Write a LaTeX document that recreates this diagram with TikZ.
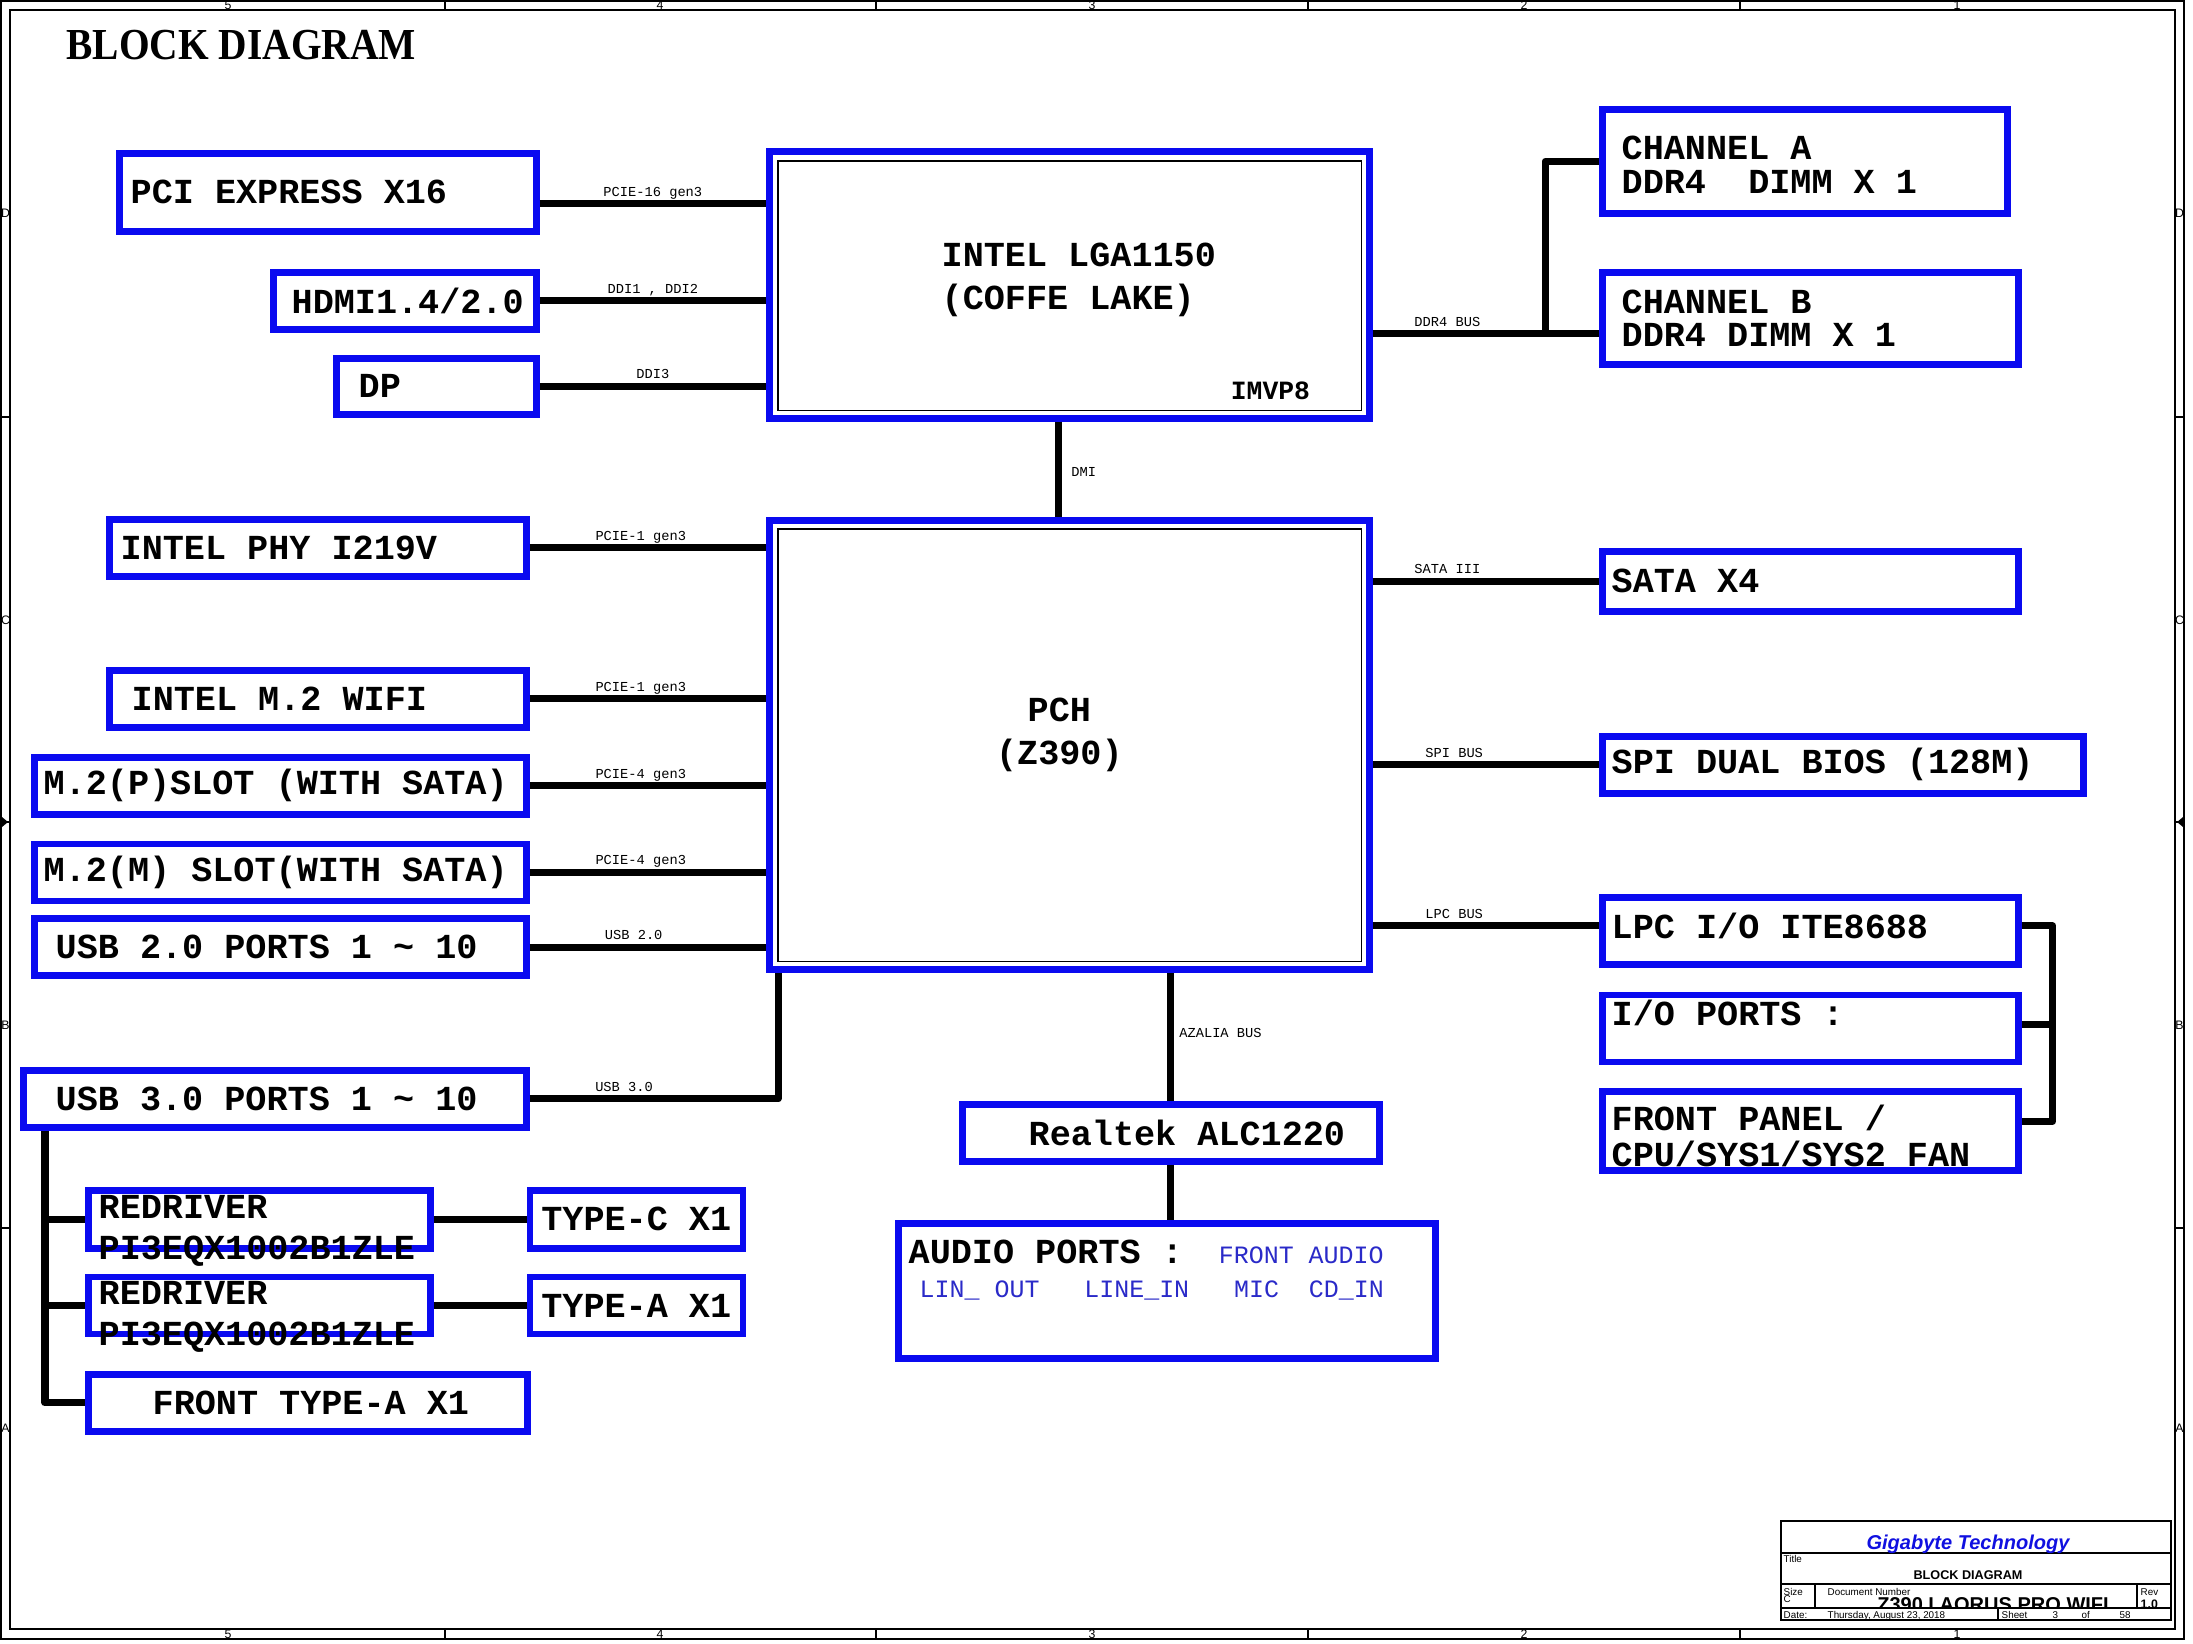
\documentclass[tikz,border=0pt]{standalone}
\usepackage{fontspec}
\usepackage{graphicx}
\setmainfont{Liberation Serif}
\setsansfont{Liberation Sans}
\setmonofont{Liberation Mono}
\usetikzlibrary{positioning}
\definecolor{boxblue}{HTML}{0A0AF0}
\definecolor{txtblue}{HTML}{2A2AC8}
\definecolor{gigablue}{HTML}{1010E0}

\newcommand{\boxfont}{\ttfamily\bfseries\fontsize{10}{12}\selectfont}
\newcommand{\lblfont}{\ttfamily\fontsize{3.9}{4.7}\selectfont}
\newcommand{\portfont}{\ttfamily\mdseries\fontsize{7.1}{8.5}\selectfont}
\newcommand{\tbfont}{\sffamily\fontsize{2.8}{3.2}\selectfont}
\newcommand{\titlefont}{\rmfamily\bfseries\fontsize{12.6}{15}\selectfont}

\begin{document}
\begin{tikzpicture}[
  x=0.1mm, y=-0.1mm,
  blk/.style={rectangle, draw=boxblue, line width=1.9pt, anchor=north west, minimum height=5.7mm, inner sep=0pt},
  chip/.style={blk, minimum width=60mm},
  btxt/.style={anchor=west, font=\boxfont, align=left, inner sep=0pt, xshift=#1},
  btxt/.default=1.2mm,
  ctxt/.style={font=\boxfont, align=center, inner sep=0pt},
  lbl/.style={font=\lblfont, inner sep=0pt, text depth=0.25em},
  bus/.style={line width=2pt, line join=round},
  frm/.style={line width=0.4pt},
  zone/.style={font=\sffamily\fontsize{3.5}{4}\selectfont, inner sep=0pt},
  tbtxt/.style={font=\tbfont, inner sep=0pt, anchor=north west},
]
\useasboundingbox (0,0) rectangle (2193,1643);

% sheet frame
\draw[frm] (1,1) rectangle (2184,1639);
\draw[line width=0.6pt] (10,10) rectangle (2175,1629);
\draw[frm] (445,1) -- (445,10) (876,1) -- (876,10) (1308,1) -- (1308,10) (1740,1) -- (1740,10);
\draw[frm] (445,1629) -- (445,1639) (876,1629) -- (876,1639) (1308,1629) -- (1308,1639) (1740,1629) -- (1740,1639);
\draw[frm] (1,417) -- (10,417) (1,822) -- (10,822) (1,1228) -- (10,1228);
\draw[frm] (2175,417) -- (2184,417) (2175,822) -- (2184,822) (2175,1228) -- (2184,1228);
\fill (2,817) -- (8,822) -- (2,827) -- cycle;
\fill (2183,817) -- (2177,822) -- (2183,827) -- cycle;
\node[zone] (zt5) at (228,5.5) {5}; \node[zone] (zt4) at (660,5.5) {4}; \node[zone] (zt3) at (1092,5.5) {3};
\node[zone] (zt2) at (1524,5.5) {2}; \node[zone] (zt1) at (1957,5.5) {1};
\node[zone] (zb5) at (228,1634) {5}; \node[zone] (zb4) at (660,1634) {4}; \node[zone] (zb3) at (1092,1634) {3};
\node[zone] (zb2) at (1524,1634) {2}; \node[zone] (zb1) at (1957,1634) {1};
\node[zone] (zlD) at (5.5,213) {D}; \node[zone] (zlC) at (5.5,620) {C}; \node[zone] (zlB) at (5.5,1025) {B}; \node[zone] (zlA) at (5.5,1428) {A};
\node[zone] (zrD) at (2179.5,213) {D}; \node[zone] (zrC) at (2179.5,620) {C}; \node[zone] (zrB) at (2179.5,1025) {B}; \node[zone] (zrA) at (2179.5,1428) {A};

\node[font=\titlefont, anchor=base west, inner sep=0pt] (title) at (66,59) {\scalebox{0.89}[1]{BLOCK DIAGRAM}};

% processor and chipset
\node[chip, minimum height=26.7mm,
  label={[btxt=17.5mm, yshift=0.5mm]west:{INTEL LGA1150\\(COFFE LAKE)}},
  label={[font=\ttfamily\bfseries\fontsize{7.5}{9}\selectfont, anchor=base east, inner sep=0pt, xshift=-6.2mm, yshift=2.2mm]south east:IMVP8}] (cpu) at (766,148) {};
\node[chip, minimum height=44.9mm,
  label={[ctxt, xshift=-1mm, yshift=1mm]center:{PCH\\(Z390)}}] (pch) at (766,517) {};
\draw[thin] ([shift={(1.2mm,-1.3mm)}]cpu.north west) rectangle ([shift={(-1.1mm,1.1mm)}]cpu.south east);
\draw[thin] ([shift={(1.2mm,-1.2mm)}]pch.north west) rectangle ([shift={(-1.1mm,1.1mm)}]pch.south east);

% display side
\node[blk, minimum width=41.7mm, minimum height=7.8mm, label={[btxt=1.4mm]west:PCI EXPRESS X16}] (pcie) at (116,150) {};
\node[blk, minimum width=26.3mm, label={[btxt=2.1mm]west:HDMI1.4/2.0}] (hdmi) at (270,269) {};
\node[blk, minimum width=20mm, minimum height=5.6mm, label={[btxt=2.5mm]west:DP}] (dp) at (333,355) {};

% memory
\node[blk, minimum width=40.5mm, minimum height=10.4mm, label={[btxt=2.2mm, yshift=-0.35mm]west:{CHANNEL A\\[-2.5pt]DDR4\ \ DIMM X 1}}] (cha) at (1599,106) {};
\node[blk, minimum width=41.6mm, minimum height=9.2mm, label={[btxt=2.2mm]west:{CHANNEL B\\[-2.5pt]DDR4 DIMM X 1}}] (chb) at (1599,269) {};

% PCH left side
\node[blk, minimum width=41.7mm, label={[btxt=1.4mm]west:INTEL PHY I219V}] (phy) at (106,516) {};
\node[blk, minimum width=41.7mm, label={[btxt=2.5mm]west:INTEL M.2 WIFI}] (wifi) at (106,667) {};
\node[blk, minimum width=49.2mm, label={[btxt]west:M.2(P)SLOT (WITH SATA)}] (m2p) at (31,754) {};
\node[blk, minimum width=49.2mm, below=2.3mm of m2p, label={[btxt]west:M.2(M) SLOT(WITH SATA)}] (m2m) {};
\node[blk, minimum width=49.2mm, below=1.1mm of m2m, label={[btxt=2.4mm]west:USB 2.0 PORTS 1 \textasciitilde{} 10}] (usb2) {};
\node[blk, minimum width=50.3mm, label={[btxt=3.5mm]west:USB 3.0 PORTS 1 \textasciitilde{} 10}] (usb3) at (20,1067) {};

% USB 3.0 branch
\node[blk, minimum width=34.2mm, minimum height=5.8mm, label={[btxt=1.3mm, yshift=-1.15mm]west:{REDRIVER\\[-0.5pt]PI3EQX1002B1ZLE}}] (rd1) at (85,1187) {};
\node[blk, minimum width=21.3mm, minimum height=5.8mm, right=9.3mm of rd1, label={[btxt=1.4mm]west:TYPE-C X1}] (typec) {};
\node[blk, minimum width=34.2mm, below=2.2mm of rd1, label={[btxt=1.3mm, yshift=-1.15mm]west:{REDRIVER\\[-0.5pt]PI3EQX1002B1ZLE}}] (rd2) {};
\node[blk, minimum width=21.3mm, right=9.3mm of rd2, label={[btxt=1.4mm]west:TYPE-A X1}] (typea) {};
\node[blk, minimum width=43.9mm, label={[btxt=6.7mm]west:FRONT TYPE-A X1}] (fta) at (85,1371) {};

% PCH right side
\node[blk, minimum width=41.6mm, minimum height=6mm, label={[btxt]west:SATA X4}] (sata) at (1599,548) {};
\node[blk, minimum width=48.1mm, label={[btxt]west:SPI DUAL BIOS (128M)}] (spi) at (1599,733) {};
\node[blk, minimum width=41.6mm, minimum height=6.7mm, label={[btxt, yshift=0.5mm]west:LPC I/O ITE8688}] (lpc) at (1599,894) {};
\node[blk, minimum width=41.6mm, minimum height=6.7mm, below=2.4mm of lpc, label={[btxt, yshift=1.6mm]west:{I/O PORTS :}}] (io) {};
\node[blk, minimum width=41.6mm, minimum height=7.9mm, below=2.3mm of io, label={[btxt, yshift=-0.5mm]west:{FRONT PANEL /\\[-1.8pt]CPU/SYS1/SYS2 FAN}}] (fp) {};

% audio
\node[blk, minimum width=41.7mm, label={[btxt=6.9mm]west:Realtek ALC1220}] (realtek) at (959,1101) {};
\node[blk, minimum width=53.7mm, minimum height=13.5mm,
  label={[anchor=north west, inner sep=0pt, xshift=1.3mm, yshift=-1.9mm]north west:{\boxfont AUDIO PORTS :\hspace{3.6mm}{\portfont\color{txtblue}FRONT AUDIO}}},
  label={[anchor=north west, inner sep=0pt, xshift=2.4mm, yshift=-6mm, font=\portfont, text=txtblue]north west:{LIN\_\ OUT\ \ \ LINE\_IN\ \ \ MIC\ \ CD\_IN}}] (audio) at (895,1220) {};

% buses
\coordinate (p16) at ([yshift=-1.15mm]pcie.east);
\draw[bus] (p16) -- (p16 -| cpu.west) node[lbl, above=-1.3pt, midway] (lp16) {PCIE-16 gen3};
\draw[bus] (hdmi) -- (hdmi -| cpu.west) node[lbl, above=-1.3pt, midway] (lddi) {DDI1 , DDI2};
\draw[bus] (dp) -- (dp -| cpu.west) node[lbl, above=-1.3pt, midway] (lddi3) {DDI3};

\coordinate (ddr) at ([yshift=-1.55mm]chb.west);
\coordinate (ddrj) at ([xshift=-5.4mm]ddr);
\draw[bus] (ddr -| cpu.east) -- (ddr) node[lbl, above=-1.3pt, pos=0.33] (lddr) {DDR4 BUS};
\draw[bus] (cha.west) -| (ddrj);

\coordinate (dmi) at ([xshift=-1.05mm]cpu.south);
\draw[bus] (dmi) -- (dmi |- pch.north) node[lbl, right=0.9mm, midway, yshift=-0.7mm] (ldmi) {DMI};

\draw[bus] (phy) -- (phy -| pch.west) node[lbl, above=-1.3pt, pos=0.47] (lphy) {PCIE-1 gen3};
\draw[bus] (wifi) -- (wifi -| pch.west) node[lbl, above=-1.3pt, pos=0.47] (lwifi) {PCIE-1 gen3};
\draw[bus] (m2p) -- (m2p -| pch.west) node[lbl, above=-1.3pt, pos=0.47] (lm2p) {PCIE-4 gen3};
\draw[bus] (m2m) -- (m2m -| pch.west) node[lbl, above=-1.3pt, pos=0.47] (lm2m) {PCIE-4 gen3};
\draw[bus] (usb2) -- (usb2 -| pch.west) node[lbl, above=-1.3pt, pos=0.44] (lusb2) {USB 2.0};
\coordinate (u3) at ([xshift=1.2mm]pch.south west);
\draw[bus] (usb3) -| (u3) node[lbl, above=-1.3pt, pos=0.19] (lusb3) {USB 3.0};

\coordinate (u3t) at ([xshift=2.5mm]usb3.south west);
\draw[bus] (u3t) |- (fta);
\draw[bus] (u3t |- rd1) -- (rd1);
\draw[bus] (u3t |- rd2) -- (rd2);
\draw[bus] (rd1) -- (typec);
\draw[bus] (rd2) -- (typea);

\draw[bus] (sata -| pch.east) -- (sata) node[lbl, above=-1.3pt, pos=0.33] (lsata) {SATA III};
\draw[bus] (spi -| pch.east) -- (spi) node[lbl, above=-1.3pt, pos=0.36] (lspi) {SPI BUS};
\coordinate (lpcw) at ([yshift=0.5mm]lpc.west);
\draw[bus] (lpcw -| pch.east) -- (lpcw) node[lbl, above=-1.3pt, pos=0.36] (llpc) {LPC BUS};

\coordinate (lpce) at ([yshift=0.5mm]lpc.east);
\coordinate (ioe) at ([yshift=0.4mm]io.east);
\coordinate (fpe) at ([yshift=1mm]fp.east);
\draw[bus] (lpce) -- ++(3.1mm,0) |- (fpe);
\draw[bus] (ioe) -- ++(3.1mm,0);

\draw[bus] (realtek.north) -- (realtek.north |- pch.south) node[lbl, right=0.5mm, midway] (laz) {AZALIA BUS};
\draw[bus] (realtek) -- (realtek |- audio.north);

% title block
\draw[frm] (1781,1521) rectangle (2171,1620);
\draw[frm] (1781,1553) -- (2171,1553) (1781,1584) -- (2171,1584) (1781,1608) -- (2171,1608);
\draw[frm] (1815,1584) -- (1815,1608) (2137,1584) -- (2137,1608) (1998,1608) -- (1998,1620);
\node[font=\sffamily\bfseries\itshape\fontsize{5.7}{6}\selectfont, text=gigablue, inner sep=0pt] (company) at (1968,1544) {Gigabyte Technology};
\node[tbtxt] (ttllbl) at (1783,1555) {Title};
\node[font=\sffamily\bfseries\fontsize{3.6}{4}\selectfont, inner sep=0pt] (ttl) at (1968,1575.5) {BLOCK DIAGRAM};
\node[tbtxt] (sizelbl) at (1783,1588) {Size};
\node[tbtxt] (size) at (1783,1595) {C};
\node[tbtxt] (doclbl) at (1827,1588) {Document Number};
\begin{scope}
\clip (1815,1584) rectangle (2137,1608);
\node[font=\sffamily\bfseries\fontsize{5.7}{6}\selectfont, anchor=base, inner sep=0pt] (docno) at (1993,1611) {Z390 I AORUS PRO WIFI};
\end{scope}
\node[tbtxt] (revlbl) at (2140,1588) {Rev};
\node[tbtxt, font=\sffamily\bfseries\fontsize{3.5}{4}\selectfont] (rev) at (2140,1599) {1.0};
\node[tbtxt] (datelbl) at (1783,1611) {Date:};
\node[tbtxt] (date) at (1827,1611) {Thursday, August 23, 2018};
\node[tbtxt] (sheetlbl) at (2001,1611) {Sheet};
\node[tbtxt] (sheet) at (2052,1611) {3};
\node[tbtxt] (oflbl) at (2081,1611) {of};
\node[tbtxt] (sheets) at (2119,1611) {58};
\end{tikzpicture}
\end{document}
